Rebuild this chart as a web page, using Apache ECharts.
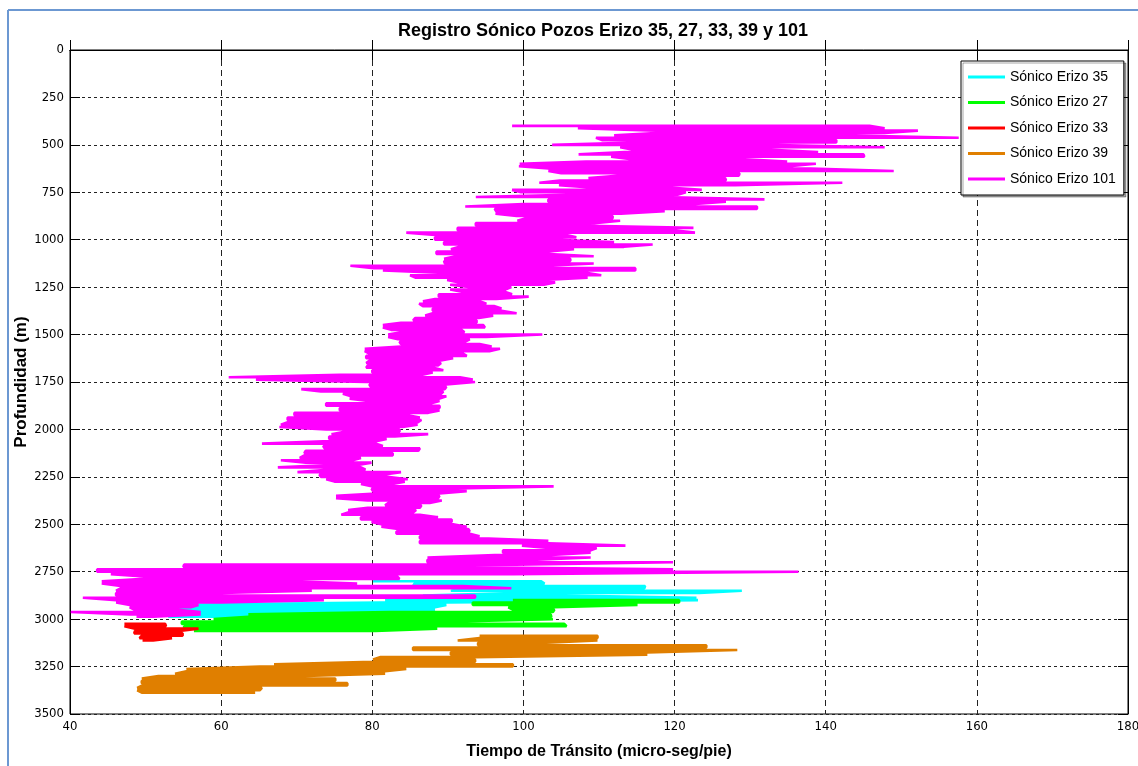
<!DOCTYPE html>
<html>
<head>
<meta charset="utf-8">
<title>Registro Sónico Pozos Erizo</title>
<script src="https://cdn.jsdelivr.net/npm/echarts@6/dist/echarts.min.js"></script>
<style>
  html, body { margin: 0; padding: 0; background: #fff; }
  #chart { width: 1138px; height: 766px; }
</style>
</head>
<body>
<div id="chart"></div>
<script>
// depth sampling of the logs (m): each level is one horizontal swing of the curve
const levelStep = 12.5;

const names = ['Sónico Erizo 35', 'Sónico Erizo 27', 'Sónico Erizo 33', 'Sónico Erizo 39', 'Sónico Erizo 101'];

// Erizo 101, from 400 m
const top101 = 400;
const min101 = [
  98.5, 107.2, 117.5, 117.5, 112, 109.6, 110.4, 115, 103.8, 112.8,
  114.5, 113.4, 107.3, 111.6, 114, 108.3, 99.5, 99.4, 103.3, 103.3,
  105, 112.4, 108.6, 104.8, 102.1, 104.7, 108.8, 98.5, 99.7, 107.1,
  93.7, 103.3, 103.3, 100, 92.3, 96.2, 96.4, 96.3, 99.1, 100.2,
  99.2, 93.7, 93.7, 91.3, 91.3, 84.5, 88.3, 88.3, 88.3, 89.5,
  89.5, 91.5, 90.4, 88.5, 88.5, 91, 89.5, 89.5, 89.6, 77.1,
  80.2, 81.4, 89.5, 85, 85.7, 89.9, 91.5, 90.3, 93, 90.3,
  92, 88.8, 88.8, 88.3, 86.7, 86.2, 86.7, 88, 88, 88,
  87, 85.7, 85.4, 83.8, 81.4, 81.4, 82.5, 83.8, 82.1, 82.1,
  83.4, 83.6, 83.8, 83.8, 79, 79, 79.6, 79.2, 79.2, 79.6,
  79.2, 79.4, 79.2, 80, 80, 75.7, 61, 64.6, 79.2, 79.6,
  79.8, 70.6, 73.2, 76.1, 77.2, 77, 79.4, 73.9, 73.9, 75.7,
  75.7, 69.7, 69.7, 68.8, 68.8, 68.8, 67.9, 67.7, 73.9, 76.3,
  74.6, 74.3, 74.3, 73.5, 65.4, 73.5, 73.7, 71.2, 71, 71,
  70.4, 67.9, 71.2, 74.3, 67.5, 74, 70.1, 73, 73.2, 73.9,
  75, 78.5, 79.9, 79.9, 80.1, 80.5, 75.2, 75.2, 79.4, 82.1,
  81.7, 79.4, 76.8, 76.8, 75.9, 78.5, 78.5, 79.9, 81.2, 81.2,
  83.4, 83.2, 83.2, 86.3, 86.3, 86.3, 86.3, 99.8, 103.3, 97.3,
  97.3, 96.2, 87.3, 87.3, 87.3, 55.1, 55, 43.6, 43.6, 45.4,
  49.8, 49.8, 44.2, 44.2, 46.7, 46.7, 46.1, 46.1, 46.1, 41.7,
  46.1, 46.1, 47.9, 47.9, 48.5, 40.1, 47.9, 48.8
];
const max101 = [
  145.8, 147.8, 152.2, 147.8, 142.4, 157.6, 141.4, 141.4, 132, 147.8,
  132.1, 139, 145, 145.1, 128.7, 134.9, 138.7, 135.2, 138, 149,
  128.6, 128.5, 126.7, 126.8, 142.2, 128, 119.2, 123.6, 121.5, 120.4,
  118.2, 131.9, 126.8, 122.3, 130.9, 130.9, 118.7, 112.9, 111.8, 111.8,
  112.8, 109.4, 107, 122.5, 119.9, 122.7, 105.7, 107, 104.2, 112,
  117.1, 113.3, 106.7, 103.4, 103.4, 109.3, 106.2, 106.2, 109.3, 103.2,
  114.8, 114.8, 108.5, 110.3, 108.5, 102.7, 104.2, 102.7, 98.4, 97.6,
  97.6, 98.5, 100.7, 96.4, 94.3, 95.1, 96.1, 97.1, 97.1, 99.1,
  96, 94.1, 93.8, 93.8, 94.7, 94.9, 91.8, 92.2, 102.5, 95.1,
  92.9, 92.3, 94.2, 95.8, 96.9, 95.5, 92, 92.5, 90.7, 88.9,
  89.1, 88.7, 88.1, 89.4, 88, 86.5, 91.6, 93.3, 93.6, 89.8,
  89.8, 89.6, 89.4, 89.1, 89.8, 88.9, 88.9, 87.8, 88.9, 88.9,
  88.9, 87.4, 84.7, 86.3, 86.5, 86, 86, 84, 83.6, 83.6,
  87.4, 83, 81.9, 80.5, 80.5, 81.4, 86.3, 86.1, 82.7, 82.7,
  78.5, 77.4, 79.9, 78.1, 78.5, 79.1, 83.8, 81.6, 82, 84.7,
  84.3, 82.7, 104, 89.6, 92.5, 88.9, 88.9, 88.7, 89.2, 87.6,
  86.5, 86.3, 85.8, 85.4, 86.3, 88.7, 90.5, 90.5, 90.7, 92.5,
  92.7, 92.9, 92.9, 94.2, 95.4, 103.3, 103.3, 113.5, 109.7, 108.9,
  108.9, 103.1, 108.9, 101, 119.8, 99, 90, 119.8, 136.4, 98.6,
  83.3, 83.6, 69.8, 78, 92, 98.4, 72, 60, 93.6, 93.6,
  73.6, 60, 57, 56, 54, 57.3, 57.3, 51
];

// Erizo 35, from 2800 m
const top35 = 2800;
const min35 = [80.1, 85.6, 85.4, 92, 90.4, 98.6, 86.7, 86.3, 81.7, 81, 52.9, 55, 51.1, 57.3, 51, 53];
const max35 = [102.3, 102.8, 116.1, 116, 128.9, 123.3, 105.5, 122.9, 123.1, 90, 89.8, 88.3, 88.3, 82.3, 69.8, 62];

// Erizo 27, from 2900 m
const top27 = 2900;
const min27 = [98.6, 93.3, 93.3, 98, 98.6, 82.3, 63.6, 63.6, 59, 54.8, 54.8, 55.1, 55.1, 56.4];
const max27 = [120.6, 120.6, 115.1, 104.1, 104.1, 103.9, 103.6, 103.7, 103.9, 91.1, 105.4, 105.7, 88.6, 80.4];

// Erizo 33, from 3025 m
const top33 = 3025;
const min33 = [47.2, 47.2, 48.6, 48.6, 48.5, 49.5, 49.2, 49.6];
const max33 = [52.6, 52.7, 57, 54.5, 54.9, 54.9, 53.5, 51];

// Erizo 39, from 3087.5 m
const top39 = 3087.5;
const min39 = [
  94.2, 94.2, 91.3, 94, 94, 85.4, 85.4, 90.4, 90.4, 81.1,
  80.1, 80.1, 67, 65.1, 55.4, 55.4, 53.9, 51.7, 49.5, 49.5,
  49.5, 49.5, 48.9, 48.9, 49.5
];
const max39 = [
  109.8, 109.8, 109.8, 102.3, 124.2, 124.2, 128.3, 116.4, 116.4, 93.6,
  93.6, 93.6, 98.6, 98.6, 84.5, 81.7, 81.7, 71.1, 75.1, 75.1,
  76.7, 76.7, 65.4, 65.1, 64.5
];

const colors = ['#00ffff', '#00ff00', '#ff0000', '#e07f00', '#ff00ff'];

// walk each depth level left->right, then right->left on the next one
function staircase(top, lo, hi) {
  const pts = [];
  for (let i = 0; i < lo.length; i++) {
    const d = top + i * levelStep;
    if (i % 2 === 0) pts.push([lo[i], d], [hi[i], d]);
    else pts.push([hi[i], d], [lo[i], d]);
  }
  return pts;
}

const logs = [
  staircase(top35, min35, max35),
  staircase(top27, min27, max27),
  staircase(top33, min33, max33),
  staircase(top39, min39, max39),
  staircase(top101, min101, max101)
];

const cond = "'DejaVu Sans Condensed', 'Liberation Sans', sans-serif";
const sans = "'Liberation Sans', Arial, sans-serif";

const chart = echarts.init(document.getElementById('chart'));
chart.setOption({
  animation: false,
  backgroundColor: '#fff',
  color: colors,
  title: {
    text: 'Registro Sónico Pozos Erizo 35, 27, 33, 39 y 101',
    left: 598,
    top: 17,
    textAlign: 'center',
    textStyle: { fontFamily: sans, fontSize: 18, fontWeight: 'bold', color: '#000' }
  },
  grid: {
    left: 70, right: 10, top: 50, bottom: 52,
    outerBoundsMode: 'none', containLabel: false,
    show: true, borderColor: '#000', borderWidth: 1
  },
  legend: {
    data: names,
    orient: 'vertical',
    left: 961,
    top: 61,
    icon: 'rect',
    backgroundColor: '#fff',
    borderColor: '#000',
    borderWidth: 1,
    shadowColor: 'rgba(0,0,0,0.35)',
    shadowOffsetX: 2,
    shadowOffsetY: 2,
    shadowBlur: 0,
    padding: [8, 8, 8, 7],
    itemWidth: 37,
    itemHeight: 3,
    itemGap: 9.5,
    textStyle: { fontFamily: sans, fontSize: 14, color: '#000', lineHeight: 16 }
  },
  xAxis: [
    {
      type: 'value',
      min: 40,
      max: 180,
      interval: 20,
      name: 'Tiempo de Tránsito (micro-seg/pie)',
      nameLocation: 'middle',
      nameGap: 30,
      nameMoveOverlap: false,
      nameTextStyle: { fontFamily: sans, fontSize: 16, fontWeight: 'bold', color: '#000' },
      axisLine: { lineStyle: { color: '#000', width: 1 } },
      axisTick: { inside: true, length: 10, lineStyle: { color: '#000' } },
      axisLabel: { fontFamily: cond, fontSize: 13, color: '#000', margin: 6 },
      splitLine: { show: true, lineStyle: { color: '#222', type: [6, 4], width: 1 } }
    },
    {
      type: 'value',
      position: 'top',
      min: 40,
      max: 180,
      interval: 20,
      axisLine: { lineStyle: { color: '#000' } },
      axisTick: { inside: true, length: 10, lineStyle: { color: '#000' } },
      axisLabel: { show: false },
      splitLine: { show: false }
    }
  ],
  yAxis: [
    {
      type: 'value',
      inverse: true,
      min: 0,
      max: 3500,
      interval: 250,
      name: 'Profundidad (m)',
      nameLocation: 'middle',
      nameGap: 40,
      nameMoveOverlap: false,
      nameTextStyle: { fontFamily: sans, fontSize: 17, fontWeight: 'bold', color: '#000' },
      axisLine: { lineStyle: { color: '#000', width: 1 } },
      axisTick: { inside: true, length: 10, lineStyle: { color: '#000' } },
      axisLabel: { fontFamily: cond, fontSize: 13, color: '#000', margin: 6, formatter: v => String(v) },
      splitLine: { show: true, lineStyle: { color: '#222', type: [3, 3], width: 1 } }
    },
    {
      type: 'value',
      position: 'right',
      inverse: true,
      min: 0,
      max: 3500,
      interval: 250,
      axisLine: { lineStyle: { color: '#000' } },
      axisTick: { inside: true, length: 10, lineStyle: { color: '#000' } },
      axisLabel: { show: false },
      splitLine: { show: false }
    }
  ],
  graphic: [
    { type: 'line', silent: true, shape: { x1: 8, y1: 10, x2: 8, y2: 766 }, style: { stroke: '#6c98d2', lineWidth: 2 } },
    { type: 'line', silent: true, shape: { x1: 8, y1: 10, x2: 1138, y2: 10 }, style: { stroke: '#6c98d2', lineWidth: 2 } }
  ],
  series: names.map((name, i) => ({
    name,
    type: 'line',
    xAxisIndex: 0,
    yAxisIndex: 0,
    data: logs[i],
    symbol: 'none',
    showSymbol: false,
    clip: true,
    silent: true,
    lineStyle: { width: 2.6, color: colors[i] }
  }))
});

window.addEventListener('resize', () => chart.resize());
</script>
</body>
</html>
